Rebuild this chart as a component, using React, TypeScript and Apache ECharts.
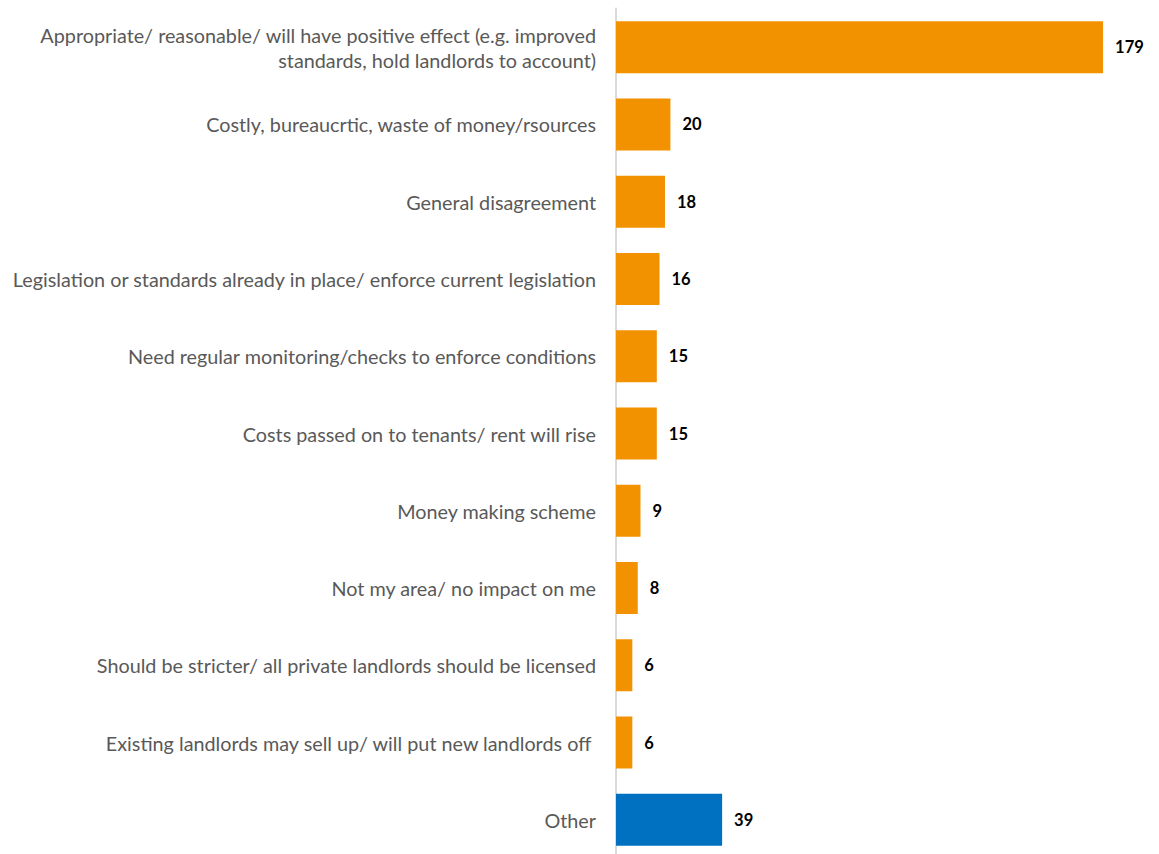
import React, { useEffect, useRef } from "react";
import * as echarts from "echarts";

const categories = [
  "Appropriate/ reasonable/ will have positive effect (e.g. improved\nstandards, hold landlords to account)",
  "Costly, bureaucrtic, waste of money/rsources",
  "General disagreement",
  "Legislation or standards already in place/ enforce current legislation",
  "Need regular monitoring/checks to enforce conditions",
  "Costs passed on to tenants/ rent will rise",
  "Money making scheme",
  "Not my area/ no impact on me",
  "Should be stricter/ all private landlords should be licensed",
  "Existing landlords may sell up/ will put new landlords off ",
  "Other",
];
const values = [179, 20, 18, 16, 15, 15, 9, 8, 6, 6, 39];
const barColors = [
  "#F39200", "#F39200", "#F39200", "#F39200", "#F39200", "#F39200",
  "#F39200", "#F39200", "#F39200", "#F39200", "#0070C0",
];

export default function App() {
  const ref = useRef<HTMLDivElement>(null);
  useEffect(() => {
    const chart = echarts.init(ref.current!, null, { renderer: "svg" });
    chart.setOption({
      animation: false,
      grid: {
        left: 616,
        width: 517,
        top: 8.5,
        height: 850,
        containLabel: false,
        outerBoundsMode: "none",
      },
      xAxis: {
        type: "value",
        min: 0,
        max: 190,
        show: false,
      },
      yAxis: {
        type: "category",
        inverse: true,
        data: categories,
        axisLine: { show: true, lineStyle: { color: "#D9D9D9", width: 2 } },
        axisTick: { show: false },
        axisLabel: {
          color: "#595959",
          fontFamily: "Lato",
          fontSize: 19.8,
          margin: 20,
          lineHeight: 25,
          align: "right",
        },
      },
      series: [
        {
          type: "bar",
          data: values.map((v, i) => ({ value: v, itemStyle: { color: barColors[i] } })),
          barWidth: 52,
          label: {
            show: true,
            position: "right",
            distance: 12,
            color: "#000000",
            fontWeight: "bold",
            fontFamily: "Lato",
            fontSize: 16.5,
          },
        },
      ],
    });
    return () => chart.dispose();
  }, []);
  return (
    <div
      ref={ref}
      style={{ position: "absolute", left: 0, top: 0, width: 1159, height: 854, background: "#fff" }}
    />
  );
}
